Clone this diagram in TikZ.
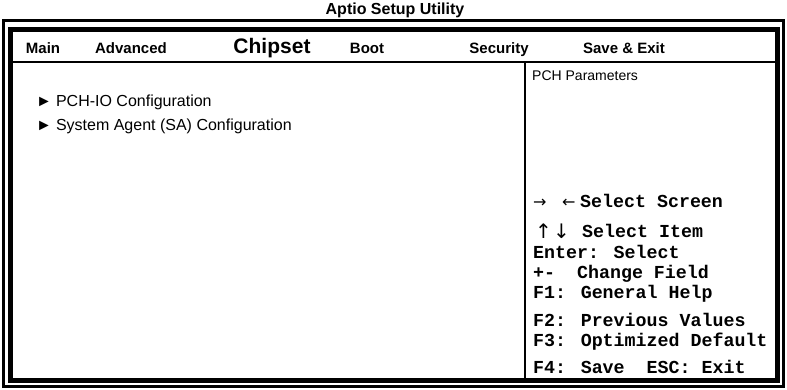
\documentclass[tikz,border=0pt]{standalone}
\usepackage{fontspec}
\setmainfont{Liberation Sans}
\newfontfamily\helpfont{Liberation Mono}
\newfontfamily\symfont{DejaVu Sans}

\begin{document}
\begin{tikzpicture}[x=1pt,y=-1pt]
\tikzset{
  frameouter/.style={line width=3pt},
  frameinner/.style={line width=5pt},
  rule/.style={line width=1.5pt},
  title/.style={font=\fontsize{16}{19}\selectfont\bfseries, anchor=base, inner sep=0pt},
  tab/.style={font=\fontsize{15}{18}\selectfont\bfseries, anchor=base, inner sep=0pt},
  acttab/.style={font=\fontsize{21}{24}\selectfont\bfseries, anchor=base, inner sep=0pt},
  item/.style={font=\fontsize{16}{19}\selectfont, anchor=base west, inner sep=0pt},
  desc/.style={font=\fontsize{14}{17}\selectfont, anchor=base west, inner sep=0pt},
  help/.style={font=\helpfont\bfseries\fontsize{18.3}{20}\selectfont, anchor=base west, inner sep=0pt},
  harrow/.style={font=\symfont\fontsize{16}{18}\selectfont, anchor=base west, inner sep=0pt},
  varrow/.style={font=\symfont\fontsize{20}{22}\selectfont, anchor=base west, inner sep=0pt},
}
\useasboundingbox (0,0) rectangle (787,389);
\fill[white] (0,0) rectangle (787,389);

% double frame: thin outer line, heavy inner line
\draw[frameouter] (3.5,20) rectangle (783.5,386.5);
\draw[frameinner] (10.5,29) rectangle (777,380);

% menu bar rule and the divider of the help pane
\draw[rule] (13,62) -- (775,62);
\draw[rule] (525,62) -- (525,378);

% title
\node[title] (title) at (395,14) {Aptio Setup Utility};

% menu tabs
\node[tab] (tmain) at (43,53) {Main};
\node[tab] (tadv) at (131,53) {Advanced};
\node[acttab] (tchip) at (272,53) {Chipset};
\node[tab] (tboot) at (367,53) {Boot};
\node[tab] (tsec) at (499,53) {Security};
\node[tab] (tsave) at (624,53) {Save \& Exit};

% submenu entries
\node[item] (pchio) at (36,106) {►\hspace{4pt}PCH-IO Configuration};
\node[item] (sacfg) at (36,130) {►\hspace{4pt}System Agent (SA) Configuration};

% help pane
\node[desc] (pchpar) at (532,80) {PCH Parameters};

\node[harrow] (arr) at (533,207) {→};
\node[harrow] (arl) at (562,207) {←};
\node[help] (selscr) at (580,207) {Select Screen};

\node[varrow] (aru) at (535,238) {↑};
\node[varrow] (ard) at (553,238) {↓};
\node[help] (selitem) at (582,237) {Select Item};

\node[help] (henter) at (533,258) {Enter: Select};
\node[help] (hchange) at (533,278) {+-~~Change Field};
\node[help] (hf1) at (533,298) {F1: General Help};
\node[help] (hf2) at (533,326) {F2: Previous Values};
\node[help] (hf3) at (533,346) {F3: Optimized Default};
\node[help] (hf4) at (533,373) {F4: Save~~ESC: Exit};
\end{tikzpicture}
\end{document}
